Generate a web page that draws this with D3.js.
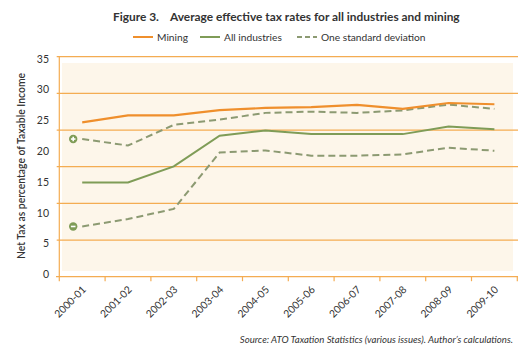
<!DOCTYPE html>
<html>
<head>
<meta charset="utf-8">
<script src="https://cdn.jsdelivr.net/npm/d3@7"></script>
<style>
html,body{margin:0;padding:0;background:#fff;}
svg{display:block;}
text{font-family:"Lato","Open Sans",sans-serif;fill:#333;}
</style>
</head>
<body>
<svg id="chart" width="522" height="364"></svg>
<script>
const years = ["2000-01","2001-02","2002-03","2003-04","2004-05","2005-06","2006-07","2007-08","2008-09","2009-10"];
const mining = [24.7,25.85,25.85,26.7,27.05,27.2,27.55,26.9,27.85,27.65];
const allIndustries = [14.95,14.95,17.55,22.55,23.4,22.8,22.8,22.8,24.05,23.6];
const upperSD = [22.0,20.95,24.3,25.15,26.25,26.45,26.25,26.65,27.6,26.9];
const lowerSD = [7.8,9.0,10.65,19.8,20.15,19.3,19.3,19.5,20.6,20.1];
const yTicks = [0,5,10,15,20,25,30,35];
const gridCount = 6;
const legendLabels = ["Mining","All industries","One standard deviation"];
const titleA = "Figure 3.";
const titleB = "Average effective tax rates for all industries and mining";
const yTitle = "Net Tax as percentage of Taxable Income";
const source = "Source: ATO Taxation Statistics (various issues). Author\u2019s calculations.";

const C = {orange:"#ef8f2c", grid:"#f4ac52", green:"#7f9c57", dash:"#8c9a72", bg:"#fdf6ea"};

const svg = d3.select("#chart");
const x = d3.scaleBand().domain(years).range([59.3,517.3]);
const y = d3.scaleLinear().domain([0,35]).range([274.5,59]);
const g = d3.scaleLinear().domain([0,gridCount]).range([276.7,56.7]);

// background
svg.append("rect").attr("x",62).attr("y",63).attr("width",451).attr("height",208).attr("fill",C.bg);

// gridlines
svg.append("g").selectAll("line").data(d3.range(1,gridCount+1)).join("line")
  .attr("x1",56.7).attr("x2",518).attr("y1",d=>g(d)).attr("y2",d=>g(d))
  .attr("stroke",C.grid).attr("stroke-width",1.2);

// y axis line
svg.append("line").attr("x1",59.3).attr("x2",59.3).attr("y1",g(gridCount)).attr("y2",g(0))
  .attr("stroke",C.grid).attr("stroke-width",1.2);
// x axis
const xAxis = svg.append("g").attr("transform",`translate(0,${g(0)})`)
  .call(d3.axisBottom(x).tickSize(0).tickFormat(""));
xAxis.select(".domain").remove();
svg.append("line").attr("x1",56).attr("x2",518).attr("y1",g(0)).attr("y2",g(0))
  .attr("stroke",C.grid).attr("stroke-width",1.3);
const bounds = years.map(d=>x(d)).concat([x.range()[1]]);
svg.append("g").selectAll("line").data(bounds).join("line")
  .attr("x1",d=>d).attr("x2",d=>d).attr("y1",g(0)).attr("y2",g(0)+4.5)
  .attr("stroke",C.grid).attr("stroke-width",1.2);
svg.append("g").selectAll("text").data(years).join("text")
  .attr("transform",d=>`translate(${x(d)+x.bandwidth()/2+2},${g(0)+11}) rotate(-45)`)
  .attr("text-anchor","end").attr("dy","0.35em").attr("font-size",10.3).attr("fill","#333")
  .text(d=>d);

// y tick labels
svg.append("g").selectAll("text").data(yTicks).join("text")
  .attr("x",49).attr("y",d=>y(d)).attr("dy","0.35em").attr("text-anchor","end")
  .attr("font-size",10.5).text(d=>d);

// y title
svg.append("text").attr("transform","translate(25,166) rotate(-90)")
  .attr("text-anchor","middle").attr("font-size",10.4).attr("font-weight",600).text(yTitle);

// lines
const cx = d=>x(d)+x.bandwidth()/2;
const lineGen = vals => d3.line().x((d,i)=>cx(years[i])).y(d=>y(d))(vals);
svg.append("path").attr("d",lineGen(upperSD)).attr("fill","none").attr("stroke",C.dash)
  .attr("stroke-width",2).attr("stroke-dasharray","7,4");
svg.append("path").attr("d",lineGen(lowerSD)).attr("fill","none").attr("stroke",C.dash)
  .attr("stroke-width",2).attr("stroke-dasharray","7,4");
svg.append("path").attr("d",lineGen(allIndustries)).attr("fill","none").attr("stroke",C.green)
  .attr("stroke-width",2);
svg.append("path").attr("d",lineGen(mining)).attr("fill","none").attr("stroke",C.orange)
  .attr("stroke-width",2.2);

// +/- markers
const markers = [{v:upperSD[0],s:"+"},{v:lowerSD[0],s:"-"}];
const mg = svg.append("g").selectAll("g").data(markers).join("g")
  .attr("transform",d=>`translate(${cx(years[0])-9},${y(d.v)})`);
mg.append("circle").attr("r",4.2).attr("fill",C.green);
mg.append("line").attr("x1",-2.3).attr("x2",2.3).attr("y1",0).attr("y2",0).attr("stroke","#fff").attr("stroke-width",1.6);
mg.filter(d=>d.s==="+").append("line").attr("x1",0).attr("x2",0).attr("y1",-2.3).attr("y2",2.3).attr("stroke","#fff").attr("stroke-width",1.6);

// title
const t = svg.append("text").attr("y",21).attr("font-size",11.9).attr("font-weight",700).attr("fill","#2b2b2b");
t.append("tspan").attr("x",113).text(titleA);
t.append("tspan").attr("x",170).text(titleB);

// legend
const legendX = [133,200,297];
const leg = svg.append("g").selectAll("g").data(legendLabels).join("g")
  .attr("transform",(d,i)=>`translate(${legendX[i]},37)`);
leg.append("line").attr("x1",0).attr("x2",20).attr("y1",0).attr("y2",0)
  .attr("stroke",(d,i)=>[C.orange,C.green,C.dash][i]).attr("stroke-width",2)
  .attr("stroke-dasharray",(d,i)=>i===2?"5,3":null);
leg.append("text").attr("x",24).attr("dy","0.35em").attr("font-size",10.2).text(d=>d);

// source
svg.append("text").attr("x",513).attr("y",343).attr("text-anchor","end")
  .attr("font-size",9.6).attr("font-style","italic").text(source);
</script>
</body>
</html>
